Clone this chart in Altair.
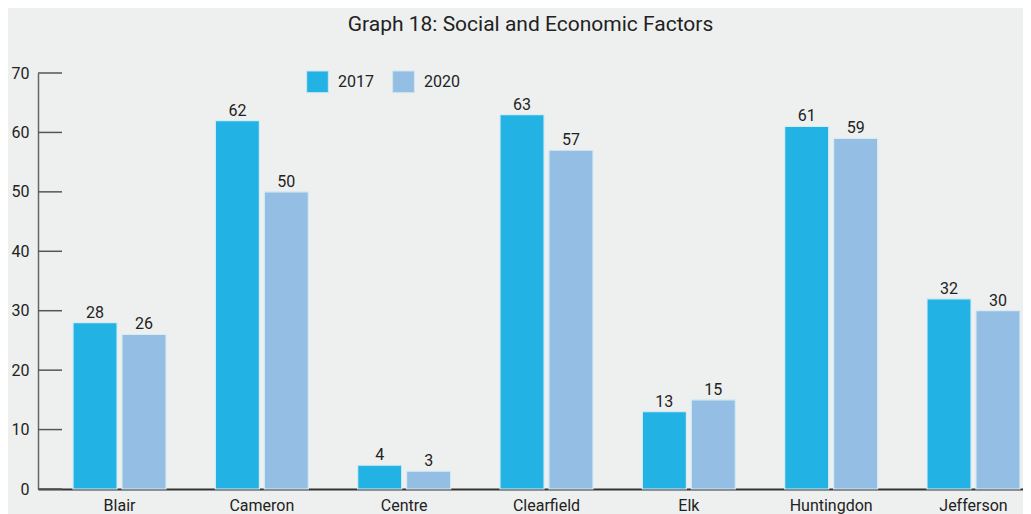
import altair as alt
import pandas as pd

counties = ["Blair", "Cameron", "Centre", "Clearfield", "Elk", "Huntingdon", "Jefferson"]
v2017 = [28, 62, 4, 63, 13, 61, 32]
v2020 = [26, 50, 3, 57, 15, 59, 30]
years = ["2017", "2020"]
y_ticks = [0, 10, 20, 30, 40, 50, 60, 70]

rows = []
for c, a, b in zip(counties, v2017, v2020):
    rows.append({"county": c, "year": "2017", "value": a})
    rows.append({"county": c, "year": "2020", "value": b})
df = pd.DataFrame(rows)
ticks_df = pd.DataFrame({"value": y_ticks})

FONT = "Roboto"
xscale = alt.Scale(range=[0, 1017], paddingInner=0.3466, paddingOuter=0.246)
yscale = alt.Scale(domain=[0, 70], nice=False)
yaxis = alt.Axis(title=None, values=y_ticks, grid=False, tickSize=0,
                 domainColor="#666666", domainWidth=1.5, labelFontSize=16,
                 labelColor="#222222", labelFont=FONT, labelPadding=9)
color = alt.Color(
    "year:N",
    scale=alt.Scale(domain=years, range=["#22b2e4", "#94bee4"]),
    legend=alt.Legend(
        title=None, orient="none", legendX=268, legendY=-3, direction="horizontal",
        symbolType="square", symbolSize=470, symbolStrokeColor="#cfe6ef", symbolStrokeWidth=1,
        labelFontSize=16, labelColor="#222222", labelFont=FONT, labelOffset=9,
        columnPadding=16,
    ),
)

base = alt.Chart(df).encode(
    x=alt.X("county:N", sort=counties, scale=xscale,
            axis=alt.Axis(title=None, labelAngle=0, ticks=False, domainColor="#333333",
                          domainWidth=2, labelFontSize=16, labelColor="#222222",
                          labelFont=FONT, labelPadding=8)),
    xOffset=alt.XOffset("year:N", sort=years, scale=alt.Scale(paddingInner=0.1)),
    y=alt.Y("value:Q", scale=yscale, axis=yaxis),
)

bars = base.mark_bar(stroke="#d6ecf4", strokeWidth=1.2).encode(color=color)
labels = base.mark_text(baseline="bottom", dy=-2, fontSize=16, font=FONT, color="#222222").encode(
    text="value:Q")

rules = alt.Chart(ticks_df).mark_rule(color="#555555", strokeWidth=1.5).encode(
    y=alt.Y("value:Q", scale=yscale, axis=yaxis),
    x=alt.value(0), x2=alt.value(24),
)

chart = alt.layer(bars, labels, rules).properties(
    width=985, height=416,
    title=alt.TitleParams("Graph 18: Social and Economic Factors", fontSize=21, font=FONT,
                          fontWeight="normal", color="#222222", anchor="middle", offset=30),
    background="#eef0ef",
    padding={"left": 30, "top": 65, "right": 0, "bottom": 25},
    autosize=alt.AutoSizeParams(type="none"),
).configure_view(stroke=None)

chart.save("out.html", embed_options={"renderer": "svg", "actions": False})
